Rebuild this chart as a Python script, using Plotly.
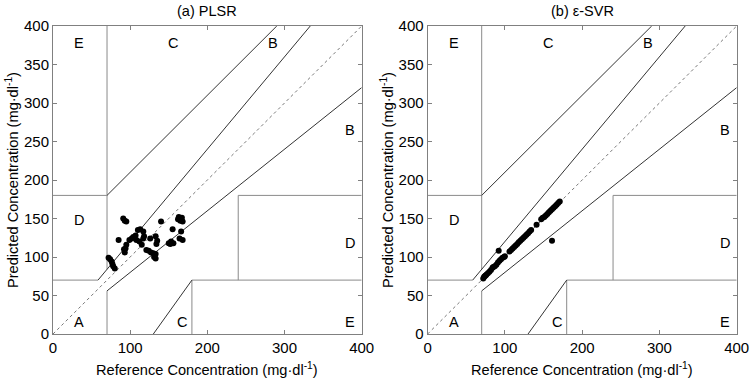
import plotly.graph_objects as go

# ---- data ----
plsr_ref = [91, 95, 93, 140, 163, 167, 165, 168, 162, 155, 166, 164, 168,
            150, 153, 156, 152, 85, 92, 93, 72, 74, 76, 77, 78, 80,
            99, 102, 104, 107, 110, 113, 117, 118, 108, 112, 115, 117, 95, 94,
            126, 133, 135, 134, 121, 124, 127, 130, 133, 131, 133]
plsr_pred = [150, 146, 147, 146, 152, 151, 147, 146, 149, 136, 133, 124, 122,
             118, 120, 118, 117, 122, 110, 106, 99, 97, 94, 91, 88, 85,
             122, 124, 126, 128, 135, 136, 133, 127, 122, 120, 116, 124, 116, 111,
             124, 127, 121, 117, 109, 108, 106, 105, 104, 100, 98]

svr_ref = [72, 73, 74, 75, 76, 78, 80, 82, 84, 85, 87, 89, 91, 93, 95, 97, 99, 100,
           106, 108, 110, 112, 114, 116, 118, 120, 122, 124, 126, 128, 130, 132, 134,
           141, 147, 149, 151, 153, 155, 157, 159, 161, 163, 165, 167, 169, 171,
           92, 161]
svr_pred = [72, 74, 75, 76, 77, 79, 81, 83, 86, 87, 88, 90, 93, 95, 97, 99, 100, 101,
            107, 109, 111, 113, 115, 117, 119, 121, 123, 125, 127, 129, 131, 133, 135,
            142, 149, 151, 152, 154, 156, 158, 160, 162, 164, 166, 168, 170, 172,
            108, 121]

titles = ["(a) PLSR", "(b) \u03b5-SVR"]
zone_labels = ["E", "C", "B", "B", "D", "D", "A", "C", "E"]
zone_x = [34, 156, 285, 385, 34, 385, 34, 167, 385]
zone_y = [378, 378, 378, 265, 148, 118, 16, 16, 16]

# Clarke grid boundaries (axis-aligned and diagonal)
grid_straight = [([0, 175/3], [70, 70]), ([70, 70], [84, 400]), ([0, 70], [180, 180]),
                 ([70, 70], [0, 56]), ([180, 180], [0, 70]), ([180, 400], [70, 70]),
                 ([240, 240], [70, 180]), ([240, 400], [180, 180])]
grid_diag = [([175/3, 400/1.2], [70, 400]), ([70, 290], [180, 400]),
             ([70, 400], [56, 320]), ([130, 180], [0, 70])]

W, H = 751, 382
xdoms = [[53/W, 361.7/W], [427.6/W, 736.7/W]]
ydom = [1 - 334/H, 1 - 26/H]

fig = go.Figure()
FONT = "Liberation Sans, Arial, sans-serif"
datasets = [(plsr_ref, plsr_pred), (svr_ref, svr_pred)]
annotations = []
for i in range(2):
    xa = "x" if i == 0 else "x2"
    ya = "y" if i == 0 else "y2"
    fig.add_trace(go.Scatter(x=[0, 400], y=[0, 400], mode="lines",
                             line=dict(color="#777", width=1, dash="dot"),
                             xaxis=xa, yaxis=ya, showlegend=False))
    for sx, sy in grid_straight:
        fig.add_trace(go.Scatter(x=sx, y=sy, mode="lines",
                                 line=dict(color="#8a8a8a", width=1),
                                 xaxis=xa, yaxis=ya, showlegend=False))
    for sx, sy in grid_diag:
        fig.add_trace(go.Scatter(x=sx, y=sy, mode="lines",
                                 line=dict(color="#333", width=1),
                                 xaxis=xa, yaxis=ya, showlegend=False))
    rx, py = datasets[i]
    fig.add_trace(go.Scatter(x=rx, y=py, mode="markers",
                             marker=dict(color="black", size=6),
                             xaxis=xa, yaxis=ya, showlegend=False))
    for t, zx, zy in zip(zone_labels, zone_x, zone_y):
        annotations.append(dict(x=zx, y=zy, xref=xa, yref=ya, text=t, showarrow=False,
                                xanchor="center", yanchor="middle",
                                font=dict(size=14.5, color="black", family=FONT)))
    cx = (xdoms[i][0] + xdoms[i][1]) / 2
    annotations.append(dict(x=cx, y=1 - 11/H, xref="paper", yref="paper",
                            text=titles[i], showarrow=False,
                            xanchor="center", yanchor="middle",
                            font=dict(size=14.5, color="black", family=FONT)))
    annotations.append(dict(x=cx, y=1 - 369/H, xref="paper", yref="paper",
                            text="Reference Concentration (mg\u00b7dl<sup>-1</sup>)",
                            showarrow=False, xanchor="center", yanchor="middle",
                            font=dict(size=14.6, color="black", family=FONT)))
    annotations.append(dict(x=(12 if i == 0 else 387)/W, y=(ydom[0] + ydom[1]) / 2,
                            xref="paper", yref="paper", textangle=-90,
                            text="Predicted Concentration (mg\u00b7dl<sup>-1</sup>)",
                            showarrow=False, xanchor="center", yanchor="middle",
                            font=dict(size=14.6, color="black", family=FONT)))

axis_common = dict(range=[0, 400], showgrid=False, zeroline=False, showline=True,
                   linecolor="#808080", linewidth=1, mirror="ticks", ticks="inside",
                   ticklen=4, tickcolor="#808080", automargin=False,
                   tickfont=dict(size=15, color="black", family=FONT))

fig.update_layout(
    width=W, height=H,
    margin=dict(l=0, r=0, t=0, b=0, autoexpand=False),
    paper_bgcolor="white", plot_bgcolor="white",
    xaxis=dict(domain=xdoms[0], anchor="y", dtick=100, **axis_common),
    yaxis=dict(domain=ydom, anchor="x", dtick=50, **axis_common),
    xaxis2=dict(domain=xdoms[1], anchor="y2", dtick=100, **axis_common),
    yaxis2=dict(domain=ydom, anchor="x2", dtick=50, **axis_common),
    annotations=annotations,
)

fig.write_html("out.html", config={"displayModeBar": False},
               post_script="document.body.style.margin='0';document.body.style.overflow='hidden';")
